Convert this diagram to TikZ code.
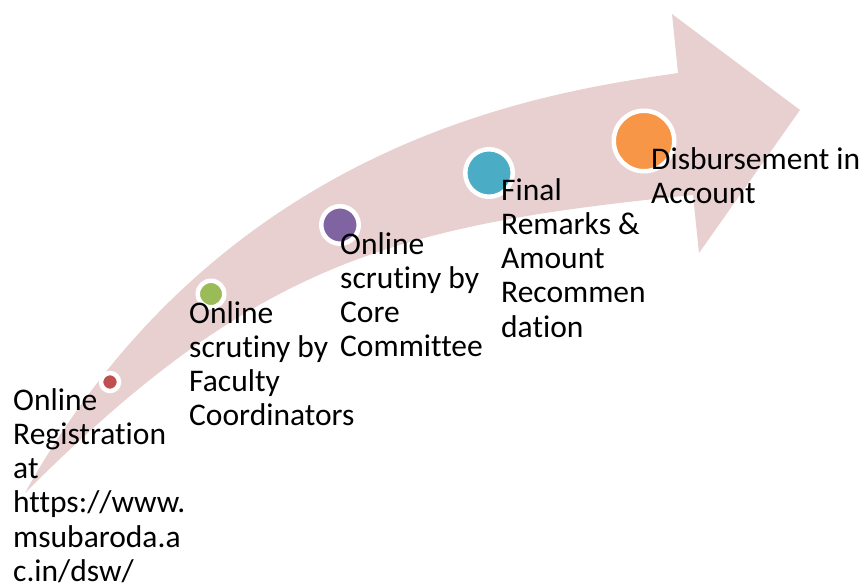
\documentclass[tikz,border=0pt]{standalone}
\usepackage{fontspec}
\setmainfont{Carlito}[Ligatures=NoCommon]
\definecolor{arrowpink}{HTML}{E8D0D1}
\definecolor{dotred}{HTML}{C0504D}
\definecolor{dotgreen}{HTML}{9BBB59}
\definecolor{dotpurple}{HTML}{8064A2}
\definecolor{dotblue}{HTML}{4BACC6}
\definecolor{dotorange}{HTML}{F79646}
\begin{document}
\begin{tikzpicture}[x=1pt,y=-1pt,
  lbl/.style={anchor=north west, inner sep=0pt, align=left, text=black,
    font=\fontsize{31.5}{34.3}\selectfont},
  stepdot/.style={circle, draw=white, line width=4.5pt, inner sep=0pt}
]
\useasboundingbox (0,0) rectangle (865,588);
% curved arrow
\fill[arrowpink] (25,493) .. controls (225,133) and (558,91) .. (678,73)
  -- (672,14) -- (800,110) -- (699,253) -- (693,195)
  .. controls (393,225) and (255,263) .. (25,493) -- cycle;
% dots
\node[stepdot, fill=dotred, minimum size=18pt] (d1) at (110,382) {};
\node[stepdot, fill=dotgreen, minimum size=26.5pt] (d2) at (211,294) {};
\node[stepdot, fill=dotpurple, minimum size=37.5pt] (d3) at (340,225) {};
\node[stepdot, fill=dotblue, minimum size=47.5pt] (d4) at (489,173) {};
\node[stepdot, fill=dotorange, minimum size=60.5pt] (d5) at (644,141) {};
% labels
\node[lbl] (t1) at (13,388) {Online\\Registration\\at\\https://www.\\msubaroda.a\\c.in/dsw/};
\node[lbl] (t2) at (189,301) {Online\\scrutiny by\\Faculty\\Coordinators};
\node[lbl] (t3) at (340,232) {Online\\scrutiny by\\Core\\Committee};
\node[lbl] (t4) at (501,178) {Final\\Remarks \&\\Amount\\Recommen\\dation};
\node[lbl] (t5) at (651,147) {Disbursement in\\Account};
\end{tikzpicture}
\end{document}
